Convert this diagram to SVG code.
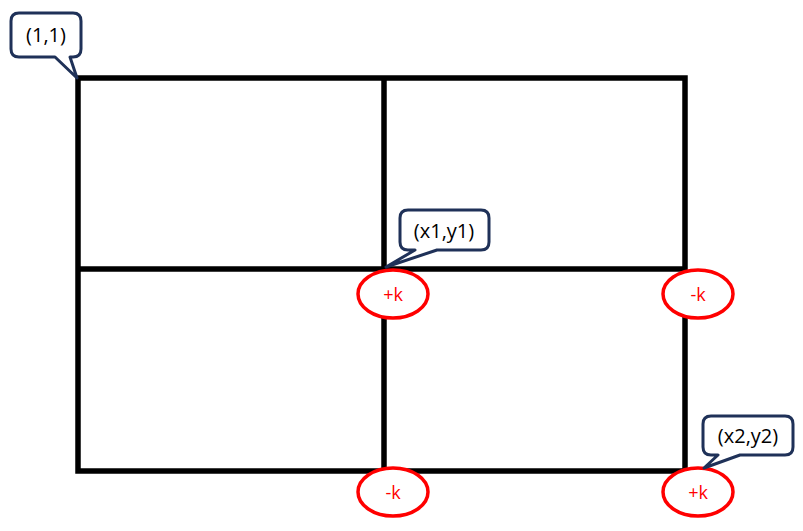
<svg xmlns="http://www.w3.org/2000/svg" width="803" height="531" viewBox="0 0 803 531">
<style>
.grid{fill:none;stroke:#000;stroke-width:5.5}
.mark{fill:#fff;stroke:#f00;stroke-width:3.5}
.mt{font-family:"Open Sans","Noto Sans",sans-serif;font-size:18px;fill:#f00;text-anchor:middle}
.call{fill:#fff;stroke:#1f3158;stroke-width:3;stroke-linejoin:round}
.ct{font-family:"Open Sans","Noto Sans",sans-serif;font-size:20px;fill:#000;text-anchor:middle}
</style>
<rect width="803" height="531" fill="#fff"/>
<g id="grid">
<rect class="grid" x="78" y="78" width="607" height="393"/>
<line class="grid" x1="384" y1="78" x2="384" y2="471"/>
<line class="grid" x1="78" y1="269" x2="685" y2="269"/>
</g>
<g id="mark-x1y1"><ellipse class="mark" cx="393" cy="294" rx="35" ry="24"/><text class="mt" x="393" y="301">+k</text></g>
<g id="mark-x2y1"><ellipse class="mark" cx="698" cy="294" rx="35" ry="24"/><text class="mt" x="698" y="301">-k</text></g>
<g id="mark-x1y2"><ellipse class="mark" cx="393" cy="492" rx="35" ry="24"/><text class="mt" x="393" y="499">-k</text></g>
<g id="mark-x2y2"><ellipse class="mark" cx="698" cy="492" rx="35" ry="24"/><text class="mt" x="698" y="499">+k</text></g>
<g id="callout-11">
<path class="call" d="M19,13 H73 Q81,13 81,21 V49 Q81,57 73,57 H70 L77,78 L55,57 H19 Q11,57 11,49 V21 Q11,13 19,13 Z"/>
<text class="ct" x="46" y="42">(1,1)</text>
</g>
<g id="callout-x1y1">
<path class="call" d="M408,210 H481 Q489,210 489,218 V242 Q489,250 481,250 H437 L386,267 L415,250 H408 Q400,250 400,242 V218 Q400,210 408,210 Z"/>
<text class="ct" x="444" y="238">(x1,y1)</text>
</g>
<g id="callout-x2y2">
<path class="call" d="M711,416 H785 Q793,416 793,424 V447 Q793,455 785,455 H740 L704,468 L718,455 H711 Q703,455 703,447 V424 Q703,416 711,416 Z"/>
<text class="ct" x="748" y="443">(x2,y2)</text>
</g>
</svg>
